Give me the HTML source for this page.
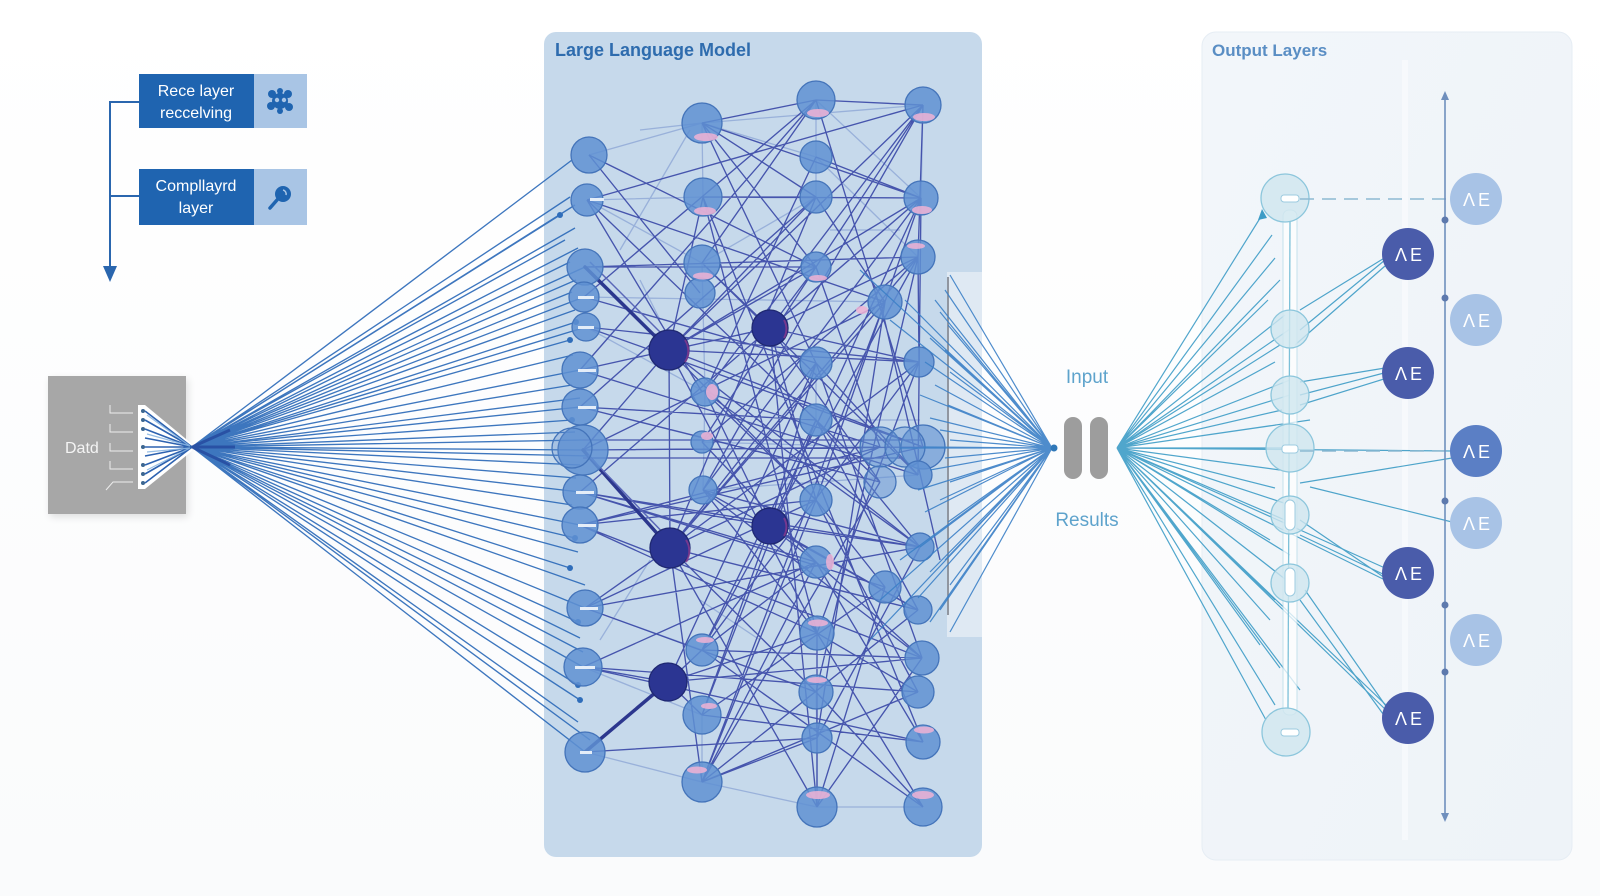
<!DOCTYPE html>
<html>
<head>
<meta charset="utf-8">
<style>
html,body{margin:0;padding:0;background:#ffffff;}
body{width:1600px;height:896px;overflow:hidden;}
svg{display:block;}
text{font-family:"Liberation Sans",Arial,sans-serif;}
</style>
</head>
<body>
<svg width="1600" height="896" viewBox="0 0 1600 896" xmlns="http://www.w3.org/2000/svg">
<defs>
<linearGradient id="bgL" x1="0" y1="0" x2="0" y2="1">
<stop offset="0" stop-color="#ffffff"/><stop offset="1" stop-color="#fafbfc"/>
</linearGradient>
<linearGradient id="outP" x1="0" y1="0" x2="1" y2="1">
<stop offset="0" stop-color="#f2f6fa"/><stop offset="1" stop-color="#eef3f8"/>
</linearGradient>
<filter id="sh" x="-20%" y="-20%" width="140%" height="140%"><feGaussianBlur stdDeviation="4"/></filter>
</defs>
<rect width="1600" height="896" fill="url(#bgL)"/>

<!-- top-left legend boxes -->
<rect x="139" y="74" width="115" height="54" fill="#1f64b0"/>
<rect x="254" y="74" width="53" height="54" fill="#a9c5e5"/>
<text x="196" y="96" font-size="16" fill="#ffffff" text-anchor="middle">Rece layer</text>
<text x="196" y="118" font-size="16" fill="#ffffff" text-anchor="middle">reccelving</text>
<g fill="#1f64b0">
<circle cx="280" cy="101" r="8"/><circle cx="272" cy="94" r="4"/><circle cx="288" cy="94" r="4"/><circle cx="271" cy="106" r="4"/><circle cx="289" cy="107" r="4"/><circle cx="280" cy="91" r="3"/><circle cx="280" cy="111" r="3"/>
</g>
<circle cx="277" cy="100" r="2.2" fill="#a9c5e5"/><circle cx="284" cy="100" r="2.2" fill="#a9c5e5"/>

<rect x="139" y="169" width="115" height="56" fill="#1f64b0"/>
<rect x="254" y="169" width="53" height="56" fill="#a9c5e5"/>
<text x="196" y="191" font-size="16" fill="#ffffff" text-anchor="middle">Compllayrd</text>
<text x="196" y="213" font-size="16" fill="#ffffff" text-anchor="middle">layer</text>
<circle cx="283" cy="194" r="8" fill="#1f64b0"/>
<line x1="277" y1="200" x2="270" y2="208" stroke="#1f64b0" stroke-width="3.5" stroke-linecap="round"/>
<path d="M283 190 a4 4 0 0 1 3 5" stroke="#a9c5e5" stroke-width="1.5" fill="none"/>

<path d="M139 102H110V268M110 196H139" stroke="#2a66ae" stroke-width="2" fill="none"/>
<polygon points="103,266 117,266 110,282" fill="#2a66ae"/>

<!-- Data box -->
<rect x="50" y="379" width="138" height="138" fill="#000" opacity="0.12" filter="url(#sh)"/>
<rect x="48" y="376" width="138" height="138" fill="#a7a7a7"/>
<text x="65" y="453" font-size="16" fill="#f4f4f4">Datd</text>
<g stroke="#ececec" stroke-width="1" fill="none">
<path d="M110 405V413H133"/><path d="M110 424V432H133"/><path d="M110 443V451H133"/><path d="M110 461V469H133"/><path d="M106 490L113 482H133"/>
</g>
<polygon points="138,405 145,405 192,444 192,451 145,489 138,489" fill="#ffffff"/>
<g stroke="#2d62b0" stroke-width="1.6" fill="none">
<path d="M145 411L192 447M145 420L192 447M145 429L192 447M145 438L192 447M145 447L192 447M145 456L192 447M145 465L192 447M145 474L192 447M145 483L192 447"/>
</g>
<g stroke="#8ab6e2" stroke-width="1.2" fill="none" opacity="0.9">
<path d="M147 415L190 446M147 434L190 446M147 452L190 448M147 470L190 448"/>
</g>
<g fill="#3c6690">
<circle cx="143" cy="411" r="2"/><circle cx="143" cy="420" r="2"/><circle cx="143" cy="429" r="2"/><circle cx="143" cy="447" r="2"/><circle cx="143" cy="465" r="2"/><circle cx="143" cy="474" r="2"/><circle cx="143" cy="483" r="2"/>
</g>

<!-- LLM panel -->
<rect x="544" y="32" width="438" height="825" rx="12" fill="#c6d9eb"/>
<rect x="947" y="272" width="35" height="365" fill="#dfe9f3"/>
<line x1="948" y1="277" x2="948" y2="615" stroke="#7d828c" stroke-width="1.6"/>
<text x="555" y="56" font-size="18" font-weight="bold" fill="#2e6cae">Large Language Model</text>

<!-- Output panel -->
<rect x="1202" y="32" width="370" height="828" rx="14" fill="url(#outP)" stroke="#e6edf4" stroke-width="1"/>
<rect x="1402" y="60" width="6" height="780" fill="#ffffff" opacity="0.45"/>
<text x="1212" y="56" font-size="17" font-weight="bold" fill="#5a8ec4">Output Layers</text>

<!-- left fan -->
<g stroke="#2c6ab8" stroke-width="1.35" fill="none" opacity="0.92">
<path d="M192 447L572 160M192 447L570 197M192 447L575 205M192 447L560 215M192 447L575 228M192 447L565 240M192 447L578 248M192 447L570 262M192 447L585 267M192 447L576 280M192 447L572 292M192 447L584 297M192 447L575 310M192 447L576 322M192 447L586 327M192 447L570 340M192 447L573 355M192 447L580 370M192 447L572 385M192 447L580 398M192 447L580 407M192 447L572 420M192 447L575 432M192 447L583 440M192 447L583 450M192 447L590 456M192 447L580 465M192 447L576 478M192 447L580 492M192 447L572 505M192 447L580 525M192 447L575 538M192 447L578 552M192 447L570 568M192 447L585 585M192 447L585 608M192 447L578 622M192 447L580 638M192 447L583 652M192 447L583 667M192 447L578 685M192 447L580 700M192 447L578 722M192 447L590 740M192 447L585 752"/>
</g>
<g fill="#2f6dba">
<circle cx="560" cy="215" r="3"/><circle cx="576" cy="322" r="3"/><circle cx="570" cy="340" r="3"/><circle cx="572" cy="420" r="3"/><circle cx="570" cy="568" r="3"/><circle cx="578" cy="622" r="3"/><circle cx="580" cy="700" r="3"/><circle cx="578" cy="685" r="3"/><circle cx="575" cy="538" r="3"/>
</g>
<path d="M192 447L230 430M192 447L230 465M192 447L235 447" stroke="#1d3a94" stroke-width="3" opacity="0.6"/>

<!-- LLM light edges -->
<g stroke="#8aa3d4" stroke-width="1.3" fill="none" opacity="0.75">
<path d="M702 123L703 197M702 123L923 105M816 100L816 157M702 123L589 155M816 157L816 197M702 123L816 157M816 100L921 198M923 105L921 198M702 263L816 197M703 197L587 200M816 157L918 257M587 200L702 263M702 263L705 392M705 392L703 490M816 363L816 420M702 442L880 447M702 782L817 807M817 807L923 807M702 715L702 782M817 738L817 807M816 692L817 738M585 608L702 650M583 667L702 715M585 752L702 782M703 490L918 475M586 327L705 392M584 297L885 302M640 130L702 123M620 250L690 130M600 640L650 560M850 420L920 420M700 600L760 640M830 230L900 230M640 280L660 320"/>
</g>

<!-- LLM dark edges -->
<g stroke="#3947a7" stroke-width="1.35" fill="none" opacity="0.9">
<path d="M589 155L700 293M583 450L669 350M669 350L670 548M669 350L816 197M669 350L816 267M669 350L921 198M669 350L919 362M669 350L923 447M669 350L816 500M669 350L703 197M669 350L920 547M669 350L817 633M669 350L923 105M670 548L816 363M670 548L919 362M670 548L880 447M670 548L816 197M670 548L885 302M670 548L702 782M670 548L817 807M670 548L918 610M670 548L585 608M670 548L918 257M670 548L816 692M668 682L702 650M668 682L702 715M668 682L817 633M668 682L922 658M668 682L583 667M668 682L816 363M770 328L702 263M770 328L816 267M770 328L919 362M770 328L918 257M770 328L580 370M770 328L816 500M770 328L880 482M770 328L921 198M770 328L817 807M770 526L705 392M770 526L816 562M770 526L920 547M770 526L918 610M770 526L580 492M770 526L816 363M770 526L921 198M770 526L702 715M703 197L921 198M703 197L817 633M703 197L923 742M703 197L816 197M702 123L816 100M702 123L816 363M702 123L816 267M816 100L923 105M816 100L923 447M816 100L702 263M816 100L580 370M923 105L705 392M923 105L816 267M923 105L703 490M921 198L703 490M921 198L580 492M918 257L702 650M918 257L816 692M885 302L702 782M885 302L817 738M587 200L885 302M587 200L816 420M585 267L918 257M585 267L816 267M580 370L918 475M580 407L880 482M580 407L816 420M580 492L816 562M580 492L885 587M580 525L922 658M580 525L817 633M585 608L920 547M585 608L816 500M583 667L918 692M583 667L816 562M702 650L922 658M702 650L816 562M702 715L923 742M702 715L816 420M702 782L817 738M702 782L918 692M702 782L816 500M817 633L918 692M817 633L919 362M816 692L923 807M817 738L920 547M817 807L885 587M817 807L817 633M817 807L922 658M923 807L817 633M923 807L702 650M923 742L816 562M918 692L816 500M922 658L816 363M918 610L816 420M920 547L703 490M880 447L705 392M880 447L580 525M880 482L816 420M918 475L702 263M583 450L923 447M583 440L923 440M583 458L900 458M923 447L586 327M923 447L580 525M921 198L918 475M923 105L918 257M918 257L919 362M880 300L940 560"/>
<path d="M702 123L921 198M702 123L816 197M816 157L921 198M816 157L705 392M816 197L885 302M816 197L580 407M816 267L880 447M816 267L702 442M816 363L918 475M816 420L920 547M816 420L702 650M816 500L885 587M816 500L580 525M816 562L922 658M816 562L702 782M584 297L816 363M586 327L919 362M580 492L920 547M580 525L816 500M585 608L816 692M583 667L923 742M585 752L817 738M705 392L816 500M705 392L920 547M703 490L817 633M703 490L918 610M702 442L816 562M919 362L702 650M918 257L702 442M885 302L583 450M885 587L702 715M918 610L702 782M921 198L816 500M923 105L587 200M816 100L584 297M589 155L816 267M587 200L702 392M880 482L702 782M922 658L703 490"/>
</g>
<g stroke="#2c378e" stroke-width="3.5" fill="none" stroke-linecap="round">
<path d="M585 267L669 350M583 450L670 548M585 752L668 682"/>
</g>
<path d="M590 262L672 344M588 455L672 542" stroke="#5a67b8" stroke-width="1.5" fill="none"/>

<!-- LLM nodes -->
<g fill="#5f90d2" fill-opacity="0.85" stroke="#4474ba" stroke-width="1.3">
<circle cx="589" cy="155" r="18"/><circle cx="587" cy="200" r="16"/><circle cx="585" cy="267" r="18"/><circle cx="584" cy="297" r="15"/><circle cx="586" cy="327" r="14"/><circle cx="580" cy="370" r="18"/><circle cx="580" cy="407" r="18"/><circle cx="583" cy="450" r="25"/><circle cx="572" cy="448" r="20" fill-opacity="0.3"/><circle cx="580" cy="492" r="17"/><circle cx="580" cy="525" r="18"/><circle cx="585" cy="608" r="18"/><circle cx="583" cy="667" r="19"/><circle cx="585" cy="752" r="20"/>
<circle cx="702" cy="123" r="20"/><circle cx="703" cy="197" r="19"/><circle cx="702" cy="263" r="18"/><circle cx="700" cy="293" r="15"/><circle cx="705" cy="392" r="14"/><circle cx="702" cy="442" r="11"/><circle cx="703" cy="490" r="14"/><circle cx="702" cy="650" r="16"/><circle cx="702" cy="715" r="19"/><circle cx="702" cy="782" r="20"/>
<circle cx="816" cy="100" r="19"/><circle cx="816" cy="157" r="16"/><circle cx="816" cy="197" r="16"/><circle cx="816" cy="267" r="15"/><circle cx="816" cy="363" r="16"/><circle cx="816" cy="420" r="16"/><circle cx="816" cy="500" r="16"/><circle cx="816" cy="562" r="16"/><circle cx="817" cy="633" r="17"/><circle cx="816" cy="692" r="17"/><circle cx="817" cy="738" r="15"/><circle cx="817" cy="807" r="20"/>
<circle cx="923" cy="105" r="18"/><circle cx="921" cy="198" r="17"/><circle cx="918" cy="257" r="17"/><circle cx="885" cy="302" r="17"/><circle cx="919" cy="362" r="15"/><circle cx="880" cy="447" r="20" fill-opacity="0.55"/><circle cx="923" cy="447" r="22" fill-opacity="0.6"/><circle cx="905" cy="447" r="20" fill-opacity="0.4"/><circle cx="918" cy="475" r="14"/><circle cx="880" cy="482" r="16" fill-opacity="0.5"/><circle cx="920" cy="547" r="14"/><circle cx="885" cy="587" r="16"/><circle cx="918" cy="610" r="14"/><circle cx="922" cy="658" r="17"/><circle cx="918" cy="692" r="16"/><circle cx="923" cy="742" r="17"/><circle cx="923" cy="807" r="19"/>
</g>
<!-- pink highlights -->
<g fill="#f0b3d5" opacity="0.85">
<ellipse cx="706" cy="137" rx="12" ry="4"/><ellipse cx="818" cy="113" rx="11" ry="4"/><ellipse cx="924" cy="117" rx="11" ry="4"/><ellipse cx="705" cy="211" rx="11" ry="4"/><ellipse cx="922" cy="210" rx="10" ry="4"/><ellipse cx="703" cy="276" rx="10" ry="3.5"/><ellipse cx="818" cy="278" rx="9" ry="3"/><ellipse cx="916" cy="246" rx="9" ry="3"/><ellipse cx="705" cy="640" rx="9" ry="3"/><ellipse cx="709" cy="706" rx="8" ry="3"/><ellipse cx="697" cy="770" rx="10" ry="3.5"/><ellipse cx="818" cy="623" rx="10" ry="3.5"/><ellipse cx="817" cy="680" rx="10" ry="3"/><ellipse cx="818" cy="795" rx="12" ry="4"/><ellipse cx="924" cy="730" rx="10" ry="3.5"/><ellipse cx="923" cy="795" rx="11" ry="4"/><ellipse cx="712" cy="392" rx="6" ry="8"/><ellipse cx="707" cy="436" rx="6" ry="4"/><ellipse cx="830" cy="562" rx="4" ry="8"/><ellipse cx="862" cy="310" rx="6" ry="4"/>
</g>
<!-- white bars in left nodes -->
<g fill="#e4edf8">
<rect x="590" y="198" width="14" height="3"/><rect x="578" y="296" width="16" height="3"/><rect x="578" y="326" width="16" height="3"/><rect x="578" y="369" width="18" height="3"/><rect x="578" y="406" width="18" height="3"/><rect x="576" y="491" width="18" height="3"/><rect x="578" y="524" width="18" height="3"/><rect x="580" y="607" width="18" height="3"/><rect x="575" y="666" width="20" height="3"/><rect x="580" y="751" width="12" height="3"/>
</g>
<!-- dark nodes -->
<g fill="#2b3592" stroke="#1f2872" stroke-width="1.3">
<circle cx="669" cy="350" r="20"/><circle cx="670" cy="548" r="20"/><circle cx="668" cy="682" r="19"/><circle cx="770" cy="328" r="18"/><circle cx="770" cy="526" r="18"/>
</g>
<g fill="none" stroke="#8a3a8e" stroke-width="2" opacity="0.8">
<path d="M685 340a20 20 0 0 1 0 22M686 540a20 20 0 0 1 0 22M784 320a18 18 0 0 1 0 18M784 518a18 18 0 0 1 0 18"/>
</g>

<!-- right fan 1 (from LLM to input) -->
<g stroke="#3b7fc6" stroke-width="1.2" fill="none" opacity="0.9">
<path d="M1052 448L950 275M1052 448L945 290M1052 448L935 300M1052 448L940 312M1052 448L948 325M1052 448L930 338M1052 448L945 350M1052 448L925 362M1052 448L950 372M1052 448L935 385M1052 448L920 395M1052 448L948 405M1052 448L930 418M1052 448L940 430M1052 448L923 447M1052 448L950 440M1052 448L900 448M1052 448L945 458M1052 448L930 470M1052 448L950 482M1052 448L918 490M1052 448L940 500M1052 448L925 512M1052 448L948 522M1052 448L935 535M1052 448L920 547M1052 448L945 560M1052 448L930 572M1052 448L950 585M1052 448L918 598M1052 448L940 610M1052 448L930 622M1052 448L950 632M1052 448L905 300M1052 448L890 320M1052 448L900 560M1052 448L880 600M1052 448L870 640M1052 448L860 270"/>
</g>
<circle cx="1054" cy="448" r="3.5" fill="#2f78b8"/>

<!-- Input / Results -->
<text x="1087" y="383" font-size="19" fill="#5ea3cc" text-anchor="middle">Input</text>
<text x="1087" y="526" font-size="19" fill="#5ea3cc" text-anchor="middle">Results</text>
<rect x="1064" y="417" width="18" height="62" rx="9" fill="#9d9d9d"/>
<rect x="1090" y="417" width="18" height="62" rx="9" fill="#9d9d9d"/>

<!-- right fan 2 (to outputs) -->
<g stroke="#3d9cc6" stroke-width="1.2" fill="none" opacity="0.9">
<path d="M1117 448L1262 215M1117 448L1272 235M1117 448L1275 258M1117 448L1280 280M1117 448L1268 300M1117 448L1285 315M1117 448L1290 329M1117 448L1280 345M1117 448L1275 362M1117 448L1290 380M1117 448L1290 395M1117 448L1282 410M1117 448L1276 425M1117 448L1290 448M1117 448L1280 470M1117 448L1275 488M1117 448L1290 505M1117 448L1285 520M1117 448L1270 540M1117 448L1290 555M1117 448L1280 575M1117 448L1290 583M1117 448L1275 600M1117 448L1270 620M1117 448L1260 645M1117 448L1280 668M1117 448L1300 690M1117 448L1275 705M1117 448L1266 720M1117 448L1452 451M1117 448L1385 580M1117 448L1385 568M1117 448L1388 712M1117 448L1386 705M1117 448L1310 420"/>
<path d="M1300 330L1385 260M1295 345L1385 266M1300 310L1386 257M1300 395L1384 373M1300 405L1384 379M1300 382L1385 368M1300 483L1452 458M1310 487L1452 522M1300 520L1388 580M1300 535L1385 575M1305 590L1390 712M1300 600L1386 718"/>
</g>
<polygon points="1262,209 1258,220 1267,218" fill="#3d9cc6"/>

<!-- output tube -->
<rect x="1283" y="210" width="14" height="505" rx="6" fill="#ffffff" opacity="0.75" stroke="#b6dbe8" stroke-width="1"/>
<line x1="1290" y1="222" x2="1288" y2="708" stroke="#7cc0d8" stroke-width="1.3"/>

<!-- hollow circles -->
<g fill="#cfe6ef" fill-opacity="0.8" stroke="#8cc6dc" stroke-width="1.3">
<circle cx="1285" cy="198" r="24"/><circle cx="1290" cy="329" r="19"/><circle cx="1290" cy="395" r="19"/><circle cx="1290" cy="448" r="24"/><circle cx="1290" cy="515" r="19"/><circle cx="1290" cy="583" r="19"/><circle cx="1286" cy="732" r="24"/>
</g>
<g fill="#ffffff" stroke="#9ccbe0" stroke-width="1">
<rect x="1281" y="195" width="18" height="7" rx="3"/><rect x="1282" y="445" width="16" height="8" rx="3"/><rect x="1281" y="729" width="18" height="7" rx="3"/>
<rect x="1285" y="500" width="10" height="30" rx="5"/><rect x="1285" y="568" width="10" height="28" rx="5"/>
</g>

<!-- dashed lines -->
<g stroke="#8dbad2" stroke-width="1.6" stroke-dasharray="14 8" fill="none">
<path d="M1300 199H1452M1300 451H1452"/>
</g>

<!-- vertical axis -->
<line x1="1445" y1="98" x2="1445" y2="815" stroke="#6f8fbd" stroke-width="1.6"/>
<polygon points="1441,100 1449,100 1445,91" fill="#6f8fbd"/>
<polygon points="1441,813 1449,813 1445,822" fill="#6f8fbd"/>
<g fill="#5d79ad">
<circle cx="1445" cy="220" r="3.5"/><circle cx="1445" cy="298" r="3.5"/><circle cx="1445" cy="501" r="3.5"/><circle cx="1445" cy="605" r="3.5"/><circle cx="1445" cy="672" r="3.5"/>
</g>

<!-- AE nodes -->
<g fill="#a8c3e6">
<circle cx="1476" cy="199" r="26"/><circle cx="1476" cy="320" r="26"/><circle cx="1476" cy="523" r="26"/><circle cx="1476" cy="640" r="26"/>
</g>
<circle cx="1476" cy="451" r="26" fill="#5b7fc5"/>
<g fill="#4a5caa">
<circle cx="1408" cy="254" r="26"/><circle cx="1408" cy="373" r="26"/><circle cx="1408" cy="573" r="26"/><circle cx="1408" cy="718" r="26"/>
</g>
<g font-size="18" fill="#ffffff" text-anchor="middle" letter-spacing="3">
<text x="1478" y="206">ΛE</text><text x="1478" y="327">ΛE</text><text x="1478" y="458">ΛE</text><text x="1478" y="530">ΛE</text><text x="1478" y="647">ΛE</text>
<text x="1410" y="261">ΛE</text><text x="1410" y="380">ΛE</text><text x="1410" y="580">ΛE</text><text x="1410" y="725">ΛE</text>
</g>
</svg>
</body>
</html>
